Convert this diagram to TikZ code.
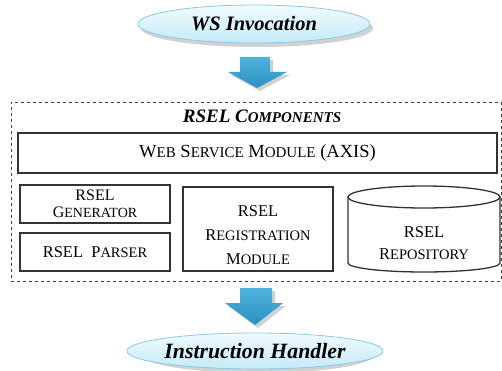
\documentclass[tikz,border=0pt]{standalone}
\usepackage{fontspec}
\setmainfont{Liberation Serif}
\usetikzlibrary{calc,shapes.geometric}
\definecolor{arrowblue}{RGB}{40,145,195}
\definecolor{arrowlight}{RGB}{80,178,218}
\definecolor{ellfill}{RGB}{196,234,248}
\definecolor{elltop}{RGB}{240,251,254}
\definecolor{elldraw}{RGB}{140,200,228}
\definecolor{boxdraw}{RGB}{50,50,50}
\newcommand\smc[1]{{\fontsize{14.5}{24}\selectfont #1}}
\newcommand\smcg[1]{{\fontsize{14}{16}\selectfont #1}}
\newcommand\smcw[1]{{\fontsize{15}{17}\selectfont #1}}
\newcommand\smct[1]{{\fontsize{15}{17}\selectfont #1}}
\tikzset{
  ellnode/.style={ellipse, draw=elldraw, line width=0.8pt, top color=elltop, bottom color=ellfill,
     font=\fontsize{20.5}{24}\selectfont\bfseries\itshape},
  compbox/.style={draw=boxdraw, line width=1.3pt, fill=white, align=center,
     font=\fontsize{16.5}{24}\selectfont},
  boxtext/.style={align=center, inner sep=0, font=\fontsize{16.5}{24}\selectfont},
  blockarrow/.style={top color=arrowlight, bottom color=arrowblue, draw=none},
  shadowfill/.style={fill=black!18}
}
\begin{document}
\begin{tikzpicture}[x=1pt,y=-1pt]
\useasboundingbox (0,0) rectangle (502,371);
% top ellipse
\fill[shadowfill] (257,28) ellipse (116 and 19);
\node[ellnode, minimum width=232, minimum height=38, inner sep=0] (ws) at (254,24) {WS Invocation};
% arrow 1
\fill[shadowfill] (243,60) -- (273,60) -- (273,75) -- (290,75) -- (260,91) -- (231,75) -- (243,75) -- cycle;
\shade[blockarrow] (240,57) -- (270,57) -- (270,72) -- (287,72) -- (257,88) -- (228,72) -- (240,72) -- cycle;
% dashed container
\node[draw=black!75, dashed, line width=0.6pt, minimum width=490, minimum height=179, inner sep=0] (comp) at (256,191.5) {};
\node[font=\fontsize{19}{22}\selectfont\bfseries\itshape] (title) at (262,116) {RSEL C\smct{OMPONENTS}};
% web service module
\node[compbox, font=\fontsize{18.5}{20}\selectfont, minimum width=479, minimum height=40, inner sep=0] (wsm) at (257.5,153) {W\smcw{EB} S\smcw{ERVICE} M\smcw{ODULE} (AXIS)};
% small boxes
\node[compbox, font=\fontsize{16}{16.5}\selectfont, minimum width=150, minimum height=38, inner sep=0] (gen) at (95,204) {RSEL\\G\smcg{ENERATOR}};
\node[compbox, minimum width=150, minimum height=38, inner sep=0] (par) at (95,252) {RSEL\ \ P\smc{ARSER}};
\node[compbox, minimum width=150, minimum height=84, inner sep=0] (reg) at (258,229) {};
\node[boxtext] (regtext) at (258,235) {RSEL\\R\smc{EGISTRATION}\\M\smc{ODULE}};
% cylinder
\draw[draw=boxdraw, line width=1.3pt, fill=white] (348,197) -- (348,263) arc[start angle=180, end angle=0, x radius=76, y radius=9] -- (500,197);
\draw[draw=boxdraw, line width=1.3pt] (424,197) ellipse (76 and 11);
\node[boxtext, font=\fontsize{16.5}{22}\selectfont] (repo) at (424,243.5) {RSEL\\R\smc{EPOSITORY}};
% arrow 2
\fill[shadowfill] (243,291) -- (275,291) -- (275,306) -- (286,306) -- (258,328) -- (228,306) -- (243,306) -- cycle;
\shade[blockarrow] (240,288) -- (272,288) -- (272,303) -- (283,303) -- (255,325) -- (225,303) -- (240,303) -- cycle;
% bottom ellipse
\fill[shadowfill] (258,355) ellipse (116 and 18);
\node[ellnode, font=\fontsize{21.8}{24}\selectfont\bfseries\itshape, minimum width=232, minimum height=36, inner sep=0] (ih) at (255,351) {Instruction Handler};
\end{tikzpicture}
\end{document}
